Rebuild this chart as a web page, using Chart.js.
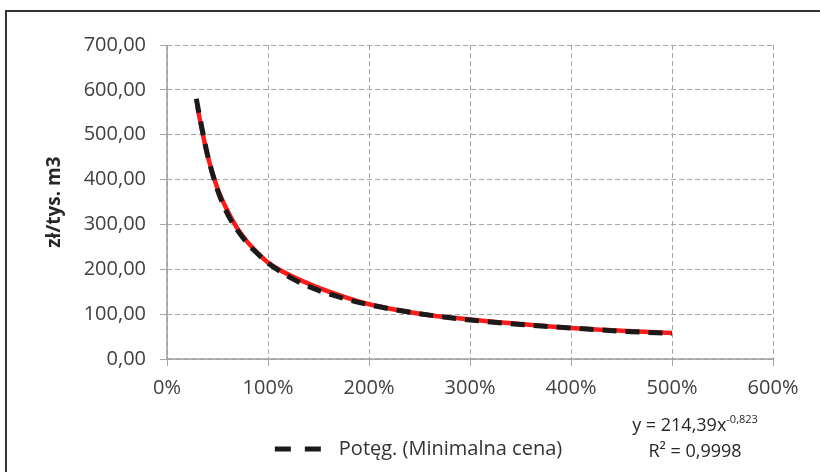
<!DOCTYPE html>
<html>
<head>
<meta charset="utf-8">
<script src="https://cdn.jsdelivr.net/npm/chart.js"></script>
<style>
    body { margin: 0; padding: 0; background: #fff; overflow: hidden; }
    #wrap { position: relative; width: 820px; height: 472px; }
    #frame {
        position: absolute; left: 5px; top: 10px; width: 900px; height: 600px;
        border: 2px solid #333; box-sizing: border-box;
    }
    #eq {
        position: absolute; left: 605px; top: 411px; width: 180px;
        font-family: "Open Sans", sans-serif; font-size: 18px; color: #262626;
        text-align: center; line-height: 26px;
    }
    #eq sup { font-size: 11px; vertical-align: 8px; line-height: 0; }
</style>
</head>
<body>
<div id="wrap">
    <div id="frame"></div>
    <canvas id="chart" width="820" height="472"></canvas>
    <div id="eq">y = 214,39x<sup>-0,823</sup><br>R² = 0,9998</div>
</div>
<script>
// Minimalna cena (red series), x in %
const pricePct = [30, 40, 50, 60, 70, 80, 90, 100, 140, 180, 200, 250, 300, 350, 400, 450, 500];
const priceVal = [562, 455, 380, 330, 290, 260, 236, 215, 168, 135, 122, 101, 88, 78, 69, 63, 58];

// Potęg. trendline (black dashed)
const trendPct = [29, 35, 40, 50, 60, 70, 80, 90, 100, 125, 150, 175, 200, 250, 300, 350, 400, 450, 500];
const trendVal = [580, 510, 456, 377, 323, 286, 257, 234, 214, 178, 153, 135, 121, 101, 87, 77, 69, 62, 57];

const xTicks = [0, 100, 200, 300, 400, 500, 600];
const yTicks = [0, 100, 200, 300, 400, 500, 600, 700];

const trendLabel = 'Potęg. (Minimalna cena)';
const yTitle = 'zł/tys. m3';

const toPoints = (xs, ys) => xs.map((x, i) => ({ x: x, y: ys[i] }));

const gridColor = '#a6a6a6';
const textColor = '#404040';

// solid axis lines on top of the dashed grid
const axisLines = {
    id: 'axisLines',
    beforeDatasetsDraw(chart) {
        const { ctx, chartArea: a } = chart;
        ctx.save();
        ctx.strokeStyle = '#a0a0a0';
        ctx.lineWidth = 1.5;
        ctx.setLineDash([]);
        ctx.beginPath();
        ctx.moveTo(a.left, a.top);
        ctx.lineTo(a.left, a.bottom);
        ctx.lineTo(a.right, a.bottom);
        ctx.stroke();
        ctx.restore();
    }
};

new Chart(document.getElementById('chart'), {
    type: 'line',
    data: {
        datasets: [
            {
                label: trendLabel,
                data: toPoints(trendPct, trendVal),
                borderColor: '#1a1a1a',
                borderWidth: 5,
                borderDash: [14, 9],
                pointRadius: 0,
                pointStyle: 'line',
                cubicInterpolationMode: 'monotone',
                fill: false,
                order: 0
            },
            {
                label: 'Minimalna cena',
                data: toPoints(pricePct, priceVal),
                borderColor: '#ff1a1a',
                borderWidth: 4.5,
                pointRadius: 0,
                cubicInterpolationMode: 'monotone',
                fill: false,
                order: 1
            }
        ]
    },
    options: {
        responsive: false,
        animation: false,
        layout: { padding: { left: 17, top: 45, right: 0, bottom: 3 } },
        plugins: {
            tooltip: { enabled: false },
            legend: {
                display: true,
                position: 'bottom',
                labels: {
                    usePointStyle: true,
                    pointStyle: 'line',
                    pointStyleWidth: 54,
                    padding: 8,
                    color: '#333',
                    font: { family: '"Open Sans", sans-serif', size: 20 },
                    generateLabels: chart => [{
                        text: trendLabel,
                        datasetIndex: 0,
                        fillStyle: '#1a1a1a',
                        strokeStyle: '#1a1a1a',
                        lineWidth: 5,
                        lineDash: [16, 14],
                        pointStyle: 'line',
                        fontColor: '#333',
                        hidden: false
                    }]
                }
            }
        },
        scales: {
            x: {
                type: 'linear',
                min: 0,
                max: 600,
                afterFit: s => { s.height = 72; },
                afterBuildTicks: s => { s.ticks = xTicks.map(v => ({ value: v })); },
                ticks: {
                    color: textColor,
                    padding: 10,
                    font: { family: '"Open Sans", sans-serif', size: 20 },
                    callback: v => v + '%'
                },
                grid: {
                    color: gridColor,
                    lineWidth: 1,
                    tickLength: 7,
                    tickColor: gridColor,
                    tickBorderDash: []
                },
                border: { display: false, dash: [5, 3] }
            },
            y: {
                type: 'linear',
                min: 0,
                max: 700,
                afterFit: s => { s.width = 150; },
                afterBuildTicks: s => { s.ticks = yTicks.map(v => ({ value: v })); },
                ticks: {
                    color: textColor,
                    padding: 14,
                    font: { family: '"Open Sans", sans-serif', size: 20 },
                    callback: v => v.toFixed(2).replace('.', ',')
                },
                grid: {
                    color: gridColor,
                    lineWidth: 1,
                    tickLength: 7,
                    tickColor: gridColor,
                    tickBorderDash: []
                },
                border: { display: false, dash: [5, 3] },
                title: {
                    display: true,
                    text: yTitle,
                    color: '#262626',
                    padding: { top: 26, bottom: 0 },
                    font: { family: '"Open Sans", sans-serif', size: 19, weight: 'bold' }
                }
            },
            spacer: {
                type: 'linear',
                position: 'right',
                display: true,
                afterFit: s => { s.width = 47; },
                ticks: { display: false },
                grid: { display: false, drawTicks: false },
                border: { display: false }
            }
        }
    },
    plugins: [axisLines]
});
</script>
</body>
</html>
